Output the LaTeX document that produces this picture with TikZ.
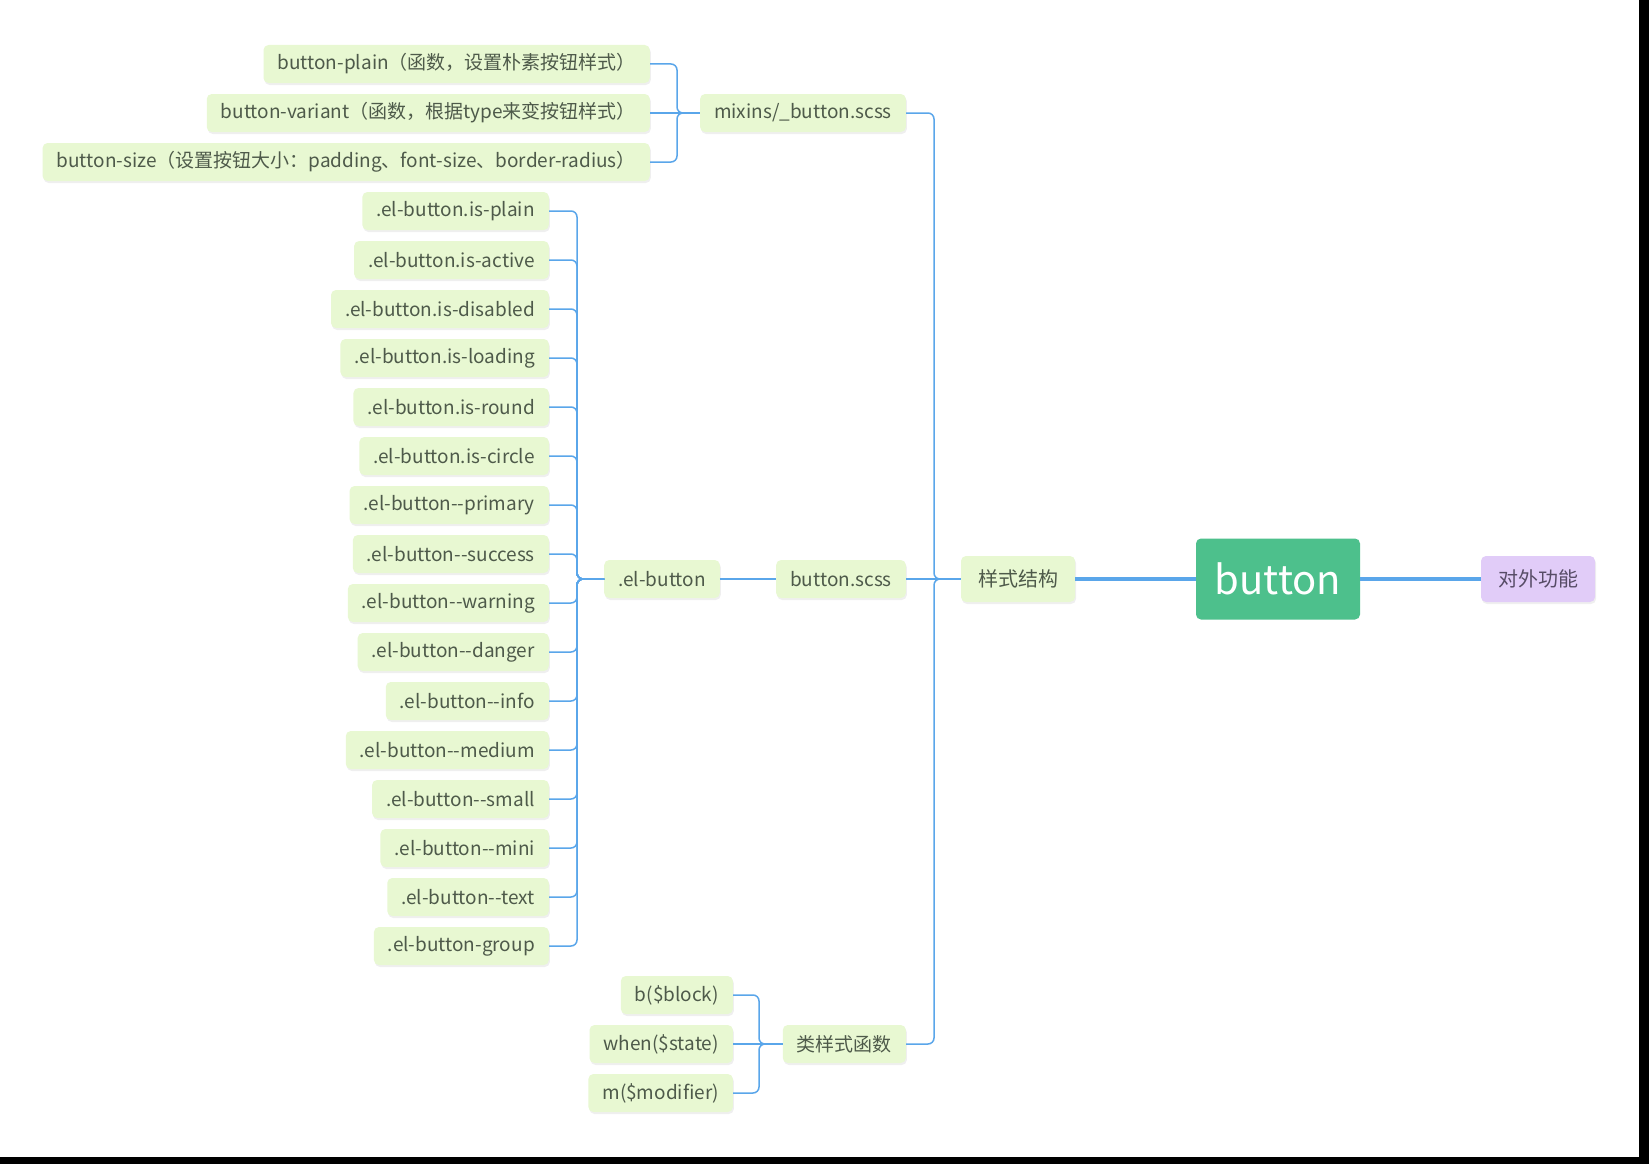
\documentclass[tikz,border=0pt]{standalone}
\usepackage{fontspec}
\setmainfont{Noto Sans CJK SC}
\usepackage{tikz}
\usetikzlibrary{shadows}

\definecolor{leaf}{HTML}{E8F8D2}
\definecolor{ink}{HTML}{4E5A4A}
\definecolor{wire}{HTML}{5AA6EA}
\definecolor{vue}{HTML}{4DC08C}
\definecolor{lilac}{HTML}{E1CCF8}
\definecolor{plum}{HTML}{574C66}
% two hyphens, kept apart so they do not become a dash
\newcommand{\dd}{-\kern0pt-}

\begin{document}
\begin{tikzpicture}[x=1pt,y=-1pt]
	 \tikzstyle{topic}=[rectangle,rounded corners=5pt,fill=leaf,text=ink,font=\fontsize{19}{22}\selectfont,minimum height=38pt,inner xsep=14pt,drop shadow={shadow xshift=1pt,shadow yshift=-2pt,opacity=0.12}]
	 \tikzstyle{branch}=[topic,font=\fontsize{20}{24}\selectfont,minimum height=46pt,inner xsep=17pt]
	 \tikzstyle{root}=[rectangle,rounded corners=5pt,fill=vue,text=white,font=\fontsize{40}{44}\selectfont,minimum width=164pt,minimum height=81pt]
	 \tikzstyle{edge} = [draw,line width=1.5pt,wire,rounded corners=6pt]
	 \tikzstyle{trunk} = [draw,line width=3.5pt,wire]

	 \useasboundingbox (0,0) rectangle (1649,1164);
	 \fill[black] (0,0) rectangle (1649,1164);
	 \fill[white] (0,0) rectangle (1639,1157);

	 \node[root] (btn) at (1278,579) {button};
	 \node[branch] (style) at (1018,579) {样式结构};
	 \node[branch,fill=lilac,text=plum] (api) at (1538,579) {对外功能};

	 \node[topic,anchor=east] (mixins) at (906,113) {mixins/\_button.scss};
	 \node[topic,anchor=east] (scss) at (906,579) {button.scss};
	 \node[topic,anchor=east] (fns) at (906,1044) {类样式函数};
	 \node[topic] (elbtn) at (662,579) {.el-button};

	 \node[topic,anchor=east] (plain) at (650,64) {button-plain（函数，设置朴素按钮样式）};
	 \node[topic,anchor=east] (variant) at (650,113) {button-variant（函数，根据type来变按钮样式）};
	 \node[topic,anchor=east] (size) at (650,162) {button-size（设置按钮大小：padding、font-size、border-radius）};

	 \node[topic,anchor=east] (c0) at (549,211) {.el-button.is-plain};
	 \node[topic,anchor=east] (c1) at (549,260) {.el-button.is-active};
	 \node[topic,anchor=east] (c2) at (549,309) {.el-button.is-disabled};
	 \node[topic,anchor=east] (c3) at (549,358) {.el-button.is-loading};
	 \node[topic,anchor=east] (c4) at (549,407) {.el-button.is-round};
	 \node[topic,anchor=east] (c5) at (549,456) {.el-button.is-circle};
	 \node[topic,anchor=east] (c6) at (549,505) {.el-button\dd primary};
	 \node[topic,anchor=east] (c7) at (549,554) {.el-button\dd success};
	 \node[topic,anchor=east] (c8) at (549,603) {.el-button\dd warning};
	 \node[topic,anchor=east] (c9) at (549,652) {.el-button\dd danger};
	 \node[topic,anchor=east] (c10) at (549,701) {.el-button\dd info};
	 \node[topic,anchor=east] (c11) at (549,750) {.el-button\dd medium};
	 \node[topic,anchor=east] (c12) at (549,799) {.el-button\dd small};
	 \node[topic,anchor=east] (c13) at (549,848) {.el-button\dd mini};
	 \node[topic,anchor=east] (c14) at (549,897) {.el-button\dd text};
	 \node[topic,anchor=east] (c15) at (549,946) {.el-button-group};

	 \node[topic,anchor=east] (blk) at (733,995) {b(\$block)};
	 \node[topic,anchor=east] (when) at (733,1044) {when(\$state)};
	 \node[topic,anchor=east] (mod) at (733,1093) {m(\$modifier)};

	 \draw[trunk] (style) -- (btn) -- (api);

	 \draw[edge] (mixins.east) -- ++(28,0) |- (style.west);
	 \draw[edge] (scss.east) -- (style.west);
	 \draw[edge] (fns.east) -- ++(28,0) |- (style.west);
	 \draw[edge] (elbtn.east) -- (scss.west);

	 \draw[edge] (plain.east) -- ++(27,0) |- (mixins.west);
	 \draw[edge] (variant.east) -- (mixins.west);
	 \draw[edge] (size.east) -- ++(27,0) |- (mixins.west);

	 \draw[edge] (c0.east) -- ++(28,0) |- (elbtn.west);
	 \draw[edge] (c1.east) -- ++(28,0) |- (elbtn.west);
	 \draw[edge] (c2.east) -- ++(28,0) |- (elbtn.west);
	 \draw[edge] (c3.east) -- ++(28,0) |- (elbtn.west);
	 \draw[edge] (c4.east) -- ++(28,0) |- (elbtn.west);
	 \draw[edge] (c5.east) -- ++(28,0) |- (elbtn.west);
	 \draw[edge] (c6.east) -- ++(28,0) |- (elbtn.west);
	 \draw[edge] (c7.east) -- ++(28,0) |- (elbtn.west);
	 \draw[edge] (c8.east) -- ++(28,0) |- (elbtn.west);
	 \draw[edge] (c9.east) -- ++(28,0) |- (elbtn.west);
	 \draw[edge] (c10.east) -- ++(28,0) |- (elbtn.west);
	 \draw[edge] (c11.east) -- ++(28,0) |- (elbtn.west);
	 \draw[edge] (c12.east) -- ++(28,0) |- (elbtn.west);
	 \draw[edge] (c13.east) -- ++(28,0) |- (elbtn.west);
	 \draw[edge] (c14.east) -- ++(28,0) |- (elbtn.west);
	 \draw[edge] (c15.east) -- ++(28,0) |- (elbtn.west);

	 \draw[edge] (blk.east) -- ++(26,0) |- (fns.west);
	 \draw[edge] (when.east) -- (fns.west);
	 \draw[edge] (mod.east) -- ++(26,0) |- (fns.west);
\end{tikzpicture}
\end{document}
